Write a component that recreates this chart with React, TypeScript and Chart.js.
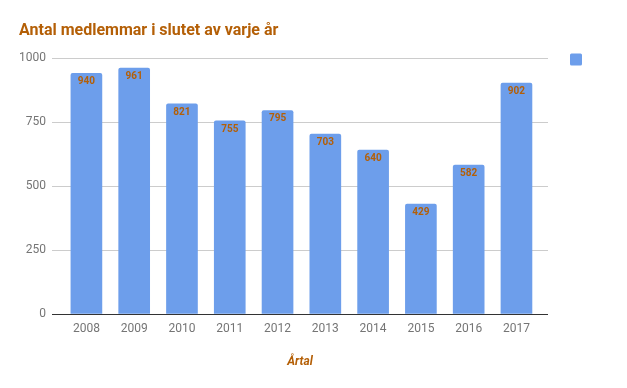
import React, { useEffect, useRef } from "react";
import { Chart, registerables } from "chart.js";

Chart.register(...registerables);

const years = [2008, 2009, 2010, 2011, 2012, 2013, 2014, 2015, 2016, 2017];
const members = [940, 961, 821, 755, 795, 703, 640, 429, 582, 902];
const yTicks = [0, 250, 500, 750, 1000];
const titleText = "Antal medlemmar i slutet av varje år";
const xAxisTitle = "Årtal";

const BAR = "#6d9eeb";
const BROWN = "#b45f06";

const overlay = {
  id: "overlay",
  afterDatasetsDraw(chart: any) {
    const ctx = chart.ctx;
    const area = chart.chartArea;
    ctx.save();
    // zero line
    const y0 = Math.round(chart.scales.y.getPixelForValue(0)) + 0.5;
    ctx.strokeStyle = "#333333";
    ctx.lineWidth = 1;
    ctx.beginPath();
    ctx.moveTo(area.left, y0);
    ctx.lineTo(area.right, y0);
    ctx.stroke();
    // title
    ctx.fillStyle = BROWN;
    ctx.font = "bold 16px Roboto";
    ctx.textAlign = "left";
    ctx.textBaseline = "alphabetic";
    ctx.fillText(titleText, 19, 35);
    // legend square
    ctx.fillStyle = BAR;
    ctx.beginPath();
    (ctx as any).roundRect(570, 53.5, 12, 12, 1.5);
    ctx.fill();
    // axis title
    ctx.fillStyle = BROWN;
    ctx.font = "italic bold 12px Roboto";
    ctx.textAlign = "center";
    ctx.fillText(xAxisTitle, (area.left + area.right) / 2, 365);
    // data labels
    const meta = chart.getDatasetMeta(0);
    ctx.font = "bold 10px Roboto";
    ctx.textBaseline = "middle";
    meta.data.forEach((bar: any, i: number) => {
      ctx.fillStyle = BROWN;
      ctx.fillText(String(members[i]), bar.x, bar.y + 8.5);
    });
    ctx.restore();
  },
};

export default function App() {
  const ref = useRef<HTMLCanvasElement | null>(null);
  useEffect(() => {
    document.body.style.margin = "0";
    const chart = new Chart(ref.current as HTMLCanvasElement, {
      type: "bar",
      data: {
        datasets: [
          {
            label: "",
            data: years.map((y, i) => ({ x: y, y: members[i] })),
            backgroundColor: BAR,
            barThickness: 31,
            borderRadius: { topLeft: 2, topRight: 2, bottomLeft: 0, bottomRight: 0 },
            borderSkipped: "bottom",
          },
        ],
      },
      plugins: [overlay],
      options: {
        responsive: false,
        animation: false,
        layout: { padding: { top: 58, right: 79, bottom: 0, left: 0 } },
        plugins: {
          legend: { display: false },
          title: { display: false },
          tooltip: { enabled: false },
        },
        scales: {
          x: {
            type: "linear",
            offset: false,
            min: 2007.28,
            max: 2017.66,
            afterBuildTicks: (scale: any) => {
              scale.ticks = years.map((v) => ({ value: v }));
            },
            afterFit: (scale: any) => {
              scale.height = 74;
            },
            grid: { display: false, drawTicks: false, offset: false },
            border: { display: false },
            ticks: {
              autoSkip: false,
              maxRotation: 0,
              padding: 8,
              color: "#757575",
              font: { family: "Roboto", size: 12 },
              callback: (v: any) => String(v),
            },
          },
          y: {
            min: 0,
            max: 1000,
            afterBuildTicks: (scale: any) => {
              scale.ticks = yTicks.map((v) => ({ value: v }));
            },
            afterFit: (scale: any) => {
              scale.width = 52;
            },
            grid: { color: "#cccccc", drawTicks: false, lineWidth: 1 },
            border: { display: false },
            ticks: {
              padding: 6,
              color: "#757575",
              font: { family: "Roboto", size: 12 },
              callback: (v: any) => String(v),
            },
          },
        },
      } as any,
    });
    return () => chart.destroy();
  }, []);
  return (
    <div style={{ position: "absolute", left: 0, top: 0, width: 627, height: 388, background: "#fff" }}>
      <canvas ref={ref} width={627} height={388} style={{ width: 627, height: 388 }} />
    </div>
  );
}
